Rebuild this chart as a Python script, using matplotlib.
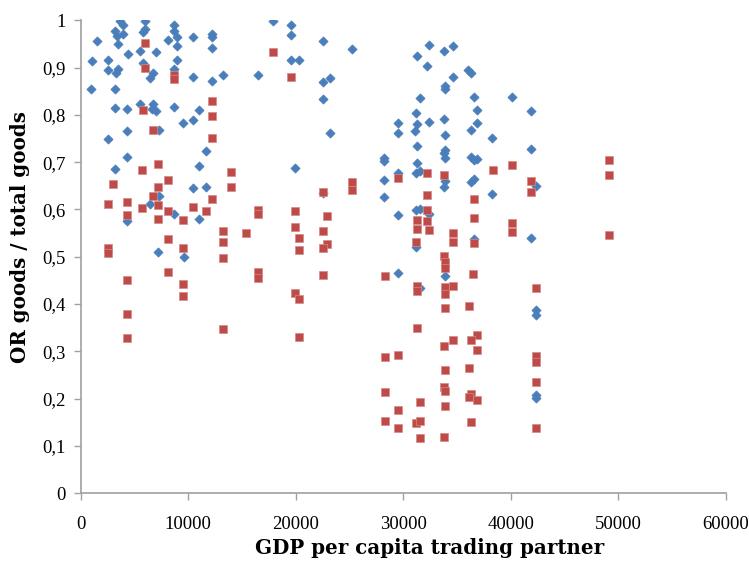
import matplotlib
matplotlib.use("Agg")
import matplotlib.pyplot as plt
from matplotlib.ticker import FuncFormatter

# blue diamonds: (GDP per capita, OR share)
blue_x = [3660, 3965, 5985, 8710, 3190, 3965, 5985, 5820, 8710, 8930,
          3340, 10470, 12185, 12185, 17860, 1485, 3445, 8115, 8930, 12185,
          5545, 4370, 6975, 1075, 2505, 8930, 5820, 2505, 3445, 3280,
          6760, 6445, 8710, 10470, 12185, 13205, 16460, 955, 3220, 5515,
          6760, 3190, 4330, 6635, 7005, 8710, 11035, 10470, 9515, 4330,
          7250, 2505, 11625, 4330, 11035, 3220, 10470, 11625, 7280, 6445,
          8710, 11035, 4330, 7220, 9635,
          19530, 19530, 22510, 25230, 19530, 20305, 23190, 22510, 22510, 23190,
          19905, 22510,
          32420, 34605, 31310, 33790, 32240, 36025, 36280, 34605, 33910, 33910,
          31555, 36585, 40145, 36890, 41890, 31155, 29485, 31310, 32420, 33820,
          29485, 31125, 36890, 36280, 33880, 38285, 31310, 41890, 33910, 33820,
          33880, 28240, 28240, 36280, 36585, 36890, 31310, 29485, 31155, 31555,
          28240, 33880, 36585, 36280, 33820, 42350, 38285, 28240, 29485, 31155,
          31555, 32420, 41890, 31155, 36585, 29485, 33910, 31555, 42350, 42350,
          42350, 42350]
blue_y = [0.998, 0.991, 0.998, 0.989, 0.977, 0.971, 0.982, 0.975, 0.977, 0.964,
          0.966, 0.964, 0.970, 0.964, 0.998, 0.956, 0.949, 0.959, 0.945, 0.942,
          0.935, 0.928, 0.933, 0.914, 0.916, 0.915, 0.910, 0.894, 0.896, 0.888,
          0.888, 0.879, 0.896, 0.881, 0.872, 0.885, 0.884, 0.854, 0.854, 0.824,
          0.823, 0.815, 0.813, 0.812, 0.808, 0.817, 0.811, 0.790, 0.783, 0.765,
          0.767, 0.750, 0.724, 0.712, 0.692, 0.685, 0.645, 0.648, 0.629, 0.612,
          0.590, 0.580, 0.576, 0.511, 0.500,
          0.991, 0.968, 0.956, 0.940, 0.916, 0.916, 0.878, 0.869, 0.834, 0.762,
          0.688, 0.634,
          0.947, 0.946, 0.925, 0.935, 0.903, 0.894, 0.889, 0.880, 0.861, 0.854,
          0.835, 0.838, 0.838, 0.811, 0.808, 0.803, 0.783, 0.780, 0.784, 0.791,
          0.761, 0.766, 0.783, 0.767, 0.757, 0.751, 0.734, 0.727, 0.725, 0.720,
          0.709, 0.708, 0.703, 0.712, 0.704, 0.707, 0.698, 0.678, 0.678, 0.681,
          0.662, 0.660, 0.665, 0.658, 0.648, 0.649, 0.632, 0.627, 0.588, 0.599,
          0.601, 0.591, 0.540, 0.521, 0.537, 0.465, 0.460, 0.435, 0.387, 0.377,
          0.208, 0.202]

# red squares
red_x = [5985, 17860, 5985, 8710, 8710, 12185, 5820, 12185, 6760, 12185,
         7220, 5670, 13980, 3005, 8115, 7220, 13980, 6760, 12185, 2505,
         4330, 5670, 7220, 10470, 11625, 8115, 16460, 16460, 4330, 7220,
         9545, 13205, 15345, 13205, 8115, 9545, 2505, 2505, 13205, 8115,
         16460, 16460, 4330, 9515, 9515, 4330, 13205, 4330,
         19530, 25260, 25260, 22510, 19905, 22885, 19905, 22510, 20305, 22885,
         22510, 20305, 22510, 19905, 20305, 20305,
         29485, 32210, 33820, 38320, 40145, 41890, 41890, 32210, 36585, 32210,
         31310, 32210, 31310, 32420, 36585, 40145, 40145, 34605, 34605, 31155,
         36585, 33820, 33910, 33910, 28280, 36460, 31250, 31250, 33910, 34605,
         33910, 42350, 33910, 36085, 31250, 36890, 34605, 36280, 33790, 36890,
         28280, 29485, 42350, 42350, 33910, 36085, 42350, 28280, 33790, 33910,
         36280, 36085, 36890, 31555, 33910, 29485, 28280, 29485, 31155, 31555,
         36280, 42350, 31555, 33790, 49170, 49170, 49170]
red_y = [0.952, 0.933, 0.899, 0.885, 0.875, 0.829, 0.811, 0.797, 0.767, 0.752,
         0.697, 0.683, 0.679, 0.653, 0.663, 0.648, 0.648, 0.629, 0.622, 0.612,
         0.615, 0.604, 0.609, 0.606, 0.597, 0.597, 0.599, 0.590, 0.588, 0.580,
         0.577, 0.555, 0.550, 0.532, 0.537, 0.518, 0.518, 0.507, 0.497, 0.467,
         0.467, 0.456, 0.451, 0.442, 0.418, 0.378, 0.347, 0.328,
         0.880, 0.658, 0.641, 0.637, 0.597, 0.586, 0.563, 0.555, 0.539, 0.527,
         0.518, 0.515, 0.462, 0.423, 0.411, 0.330,
         0.666, 0.678, 0.673, 0.684, 0.693, 0.660, 0.636, 0.630, 0.622, 0.599,
         0.578, 0.576, 0.559, 0.557, 0.582, 0.572, 0.553, 0.551, 0.532, 0.532,
         0.530, 0.502, 0.490, 0.477, 0.460, 0.463, 0.439, 0.428, 0.437, 0.439,
         0.421, 0.435, 0.392, 0.395, 0.349, 0.335, 0.325, 0.325, 0.311, 0.302,
         0.288, 0.293, 0.290, 0.277, 0.261, 0.264, 0.235, 0.215, 0.224, 0.217,
         0.210, 0.203, 0.198, 0.192, 0.184, 0.177, 0.153, 0.139, 0.149, 0.153,
         0.150, 0.139, 0.117, 0.119, 0.705, 0.672, 0.546]

x_ticks = [0, 10000, 20000, 30000, 40000, 50000, 60000]
y_ticks = [0, 0.1, 0.2, 0.3, 0.4, 0.5, 0.6, 0.7, 0.8, 0.9, 1.0]

plt.rcParams['font.family'] = ['Liberation Serif', 'DejaVu Serif']

fig = plt.figure(figsize=(7.49, 5.63), dpi=100)
ax = fig.add_axes([0.1077, 0.1238, 0.8612, 0.8402])

ax.scatter(blue_x, blue_y, marker='D', s=22, color='#4A7EBB', edgecolors='#4A7EBB',
           linewidths=0.5, zorder=3)
ax.scatter(red_x, red_y, marker='s', s=34, color='#BE4B48', edgecolors='#D58A88',
           linewidths=0.5, zorder=3)

ax.set_xlim(0, 60000)
ax.set_ylim(0, 1)
ax.set_xticks(x_ticks)
ax.set_yticks(y_ticks)

def comma_fmt(v, pos):
    if abs(v - round(v)) < 1e-9:
        return str(int(round(v)))
    return ("%.1f" % v).replace(".", ",")

ax.yaxis.set_major_formatter(FuncFormatter(comma_fmt))

for s in ['top', 'right']:
    ax.spines[s].set_visible(False)
for s in ['left', 'bottom']:
    ax.spines[s].set_color('#A0A0A0')
    ax.spines[s].set_linewidth(1.2)

ax.tick_params(direction='out', length=5, width=1, color='#A0A0A0',
               labelsize=13.5, labelcolor='black', pad=6)
ax.tick_params(axis='x', pad=11)

label_font = dict(family='DejaVu Serif', fontsize=14.3, fontweight='bold')
ax.set_xlabel("GDP per capita trading partner", **label_font)
ax.set_ylabel("OR goods / total goods", **label_font)
ax.xaxis.set_label_coords(0.5415, -0.095)
ax.yaxis.set_label_coords(-0.079, 0.542)

fig.savefig("out.png", dpi=100)
